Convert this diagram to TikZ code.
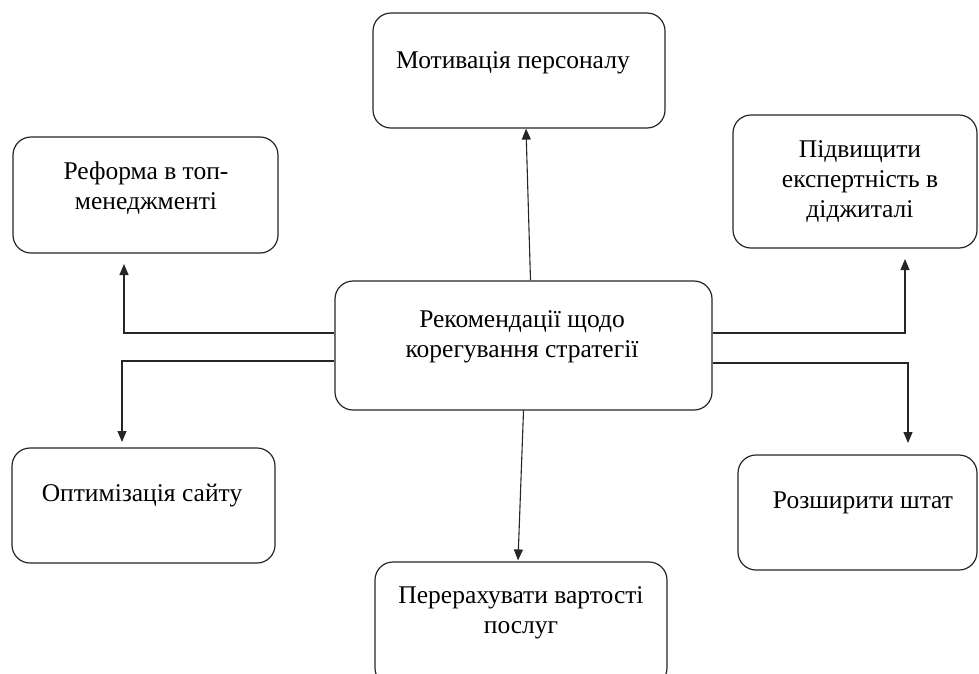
\documentclass[tikz,border=0pt]{standalone}
\usepackage{fontspec}
\setmainfont{Liberation Serif}
\usetikzlibrary{arrows.meta,calc}
\begin{document}
\begin{tikzpicture}[x=1pt,y=-1pt,
  box/.style={draw=black!85,line width=1.2pt,rounded corners=18pt,fill=white,inner sep=0pt},
  lbl/.style={align=center,font=\fontsize{25.5}{30}\selectfont,inner sep=0pt},
  arr/.style={draw=black!85,line width=1.1pt,-{Triangle[length=11pt,width=9pt]}}]
\useasboundingbox (0,0) rectangle (979,673);
\clip (0,0) rectangle (979,673);
% boxes
\node[box,minimum width=377pt,minimum height=129pt] (cen) at (523.5,345.5) {};
\node[box,minimum width=292pt,minimum height=115pt] (mot) at (519,70.5) {};
\node[box,minimum width=265pt,minimum height=116pt] (ref) at (145.5,195) {};
\node[box,minimum width=244pt,minimum height=133pt] (pid) at (855,181.5) {};
\node[box,minimum width=292pt,minimum height=124pt] (per) at (521,624) {};
\node[box,minimum width=263pt,minimum height=115pt] (opt) at (143.5,505.5) {};
\node[box,minimum width=239pt,minimum height=115pt] (roz) at (857.5,512.5) {};
% texts
\node[lbl] (cent) at (522,337) {Рекомендації щодо\\корегування стратегії};
\node[lbl] (mott) at (513,63) {Мотивація персоналу};
\node[lbl] (reft) at (146,188) {Реформа в топ-\\менеджменті};
\node[lbl] (pidt) at (860,182) {Підвищити\\експертність в\\діджиталі};
\node[lbl] (pert) at (521,613) {Перерахувати вартості\\послуг};
\node[lbl] (optt) at (142,496) {Оптимізація сайту};
\node[lbl] (rozt) at (863,503) {Розширити штат};
% bend coordinates
\coordinate (yl1) at (0,333);
\coordinate (yl2) at (0,361);
\coordinate (yr1) at (0,333);
\coordinate (yr2) at (0,363);
\coordinate (tl) at (124,264);
\coordinate (bl) at (122,442);
\coordinate (tr) at (905,259);
\coordinate (br) at (908,443);
% connectors
\draw[arr] ([xshift=7pt]cen.north) -- ([xshift=7pt]mot.south);
\draw[arr] (cen.south) -- ([xshift=-3pt,yshift=1pt]per.north);
\draw[arr] (cen.west |- yl1) -| (tl);
\draw[arr] (cen.west |- yl2) -| (bl);
\draw[arr] (cen.east |- yr1) -| (tr);
\draw[arr] (cen.east |- yr2) -| (br);
\end{tikzpicture}
\end{document}
